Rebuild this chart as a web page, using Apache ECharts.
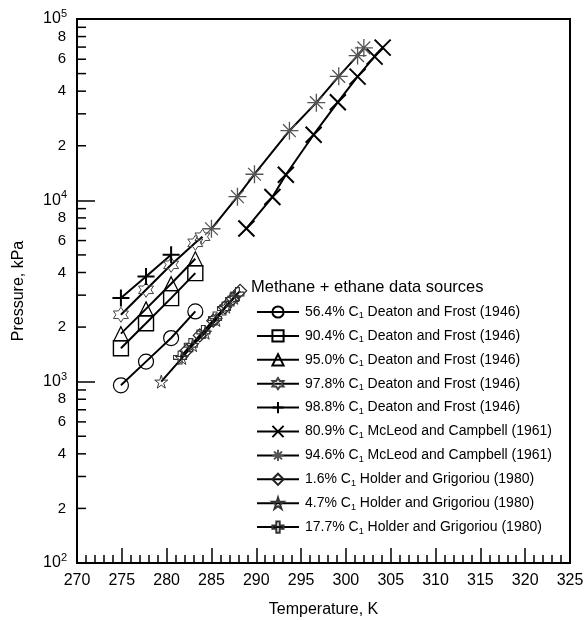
<!DOCTYPE html>
<html>
<head>
<meta charset="utf-8">
<script src="https://cdn.jsdelivr.net/npm/echarts@6/dist/echarts.min.js"></script>
<style>
  html, body { margin: 0; padding: 0; background: #fff; }
  #chart { width: 587px; height: 620px; }
</style>
</head>
<body>
<div id="chart"></div>
<script>
const seriesNames = [
  '56.4% C1 Deaton and Frost (1946)',
  '90.4% C1 Deaton and Frost (1946)',
  '95.0% C1 Deaton and Frost (1946)',
  '97.8% C1 Deaton and Frost (1946)',
  '98.8% C1 Deaton and Frost (1946)',
  '80.9% C1 McLeod and Campbell (1961)',
  '94.6% C1 McLeod and Campbell (1961)',
  '1.6% C1 Holder and Grigoriou (1980)',
  '4.7% C1 Holder and Grigoriou (1980)',
  '17.7% C1 Holder and Grigoriou (1980)'
];

// temperature (K) and pressure (kPa) for each source
const t564 = [274.9, 277.7, 280.5, 283.2];
const p564 = [955, 1290, 1740, 2440];
const t904 = [274.9, 277.7, 280.5, 283.2];
const p904 = [1530, 2100, 2890, 3970];
const t950 = [274.9, 277.7, 280.5, 283.2];
const p950 = [1840, 2520, 3470, 4760];
const t978 = [274.9, 277.7, 280.5, 283.2, 284.0];
const p978 = [2340, 3210, 4410, 5830, 6300];
const t988 = [274.9, 277.7, 280.5];
const p988 = [2890, 3800, 5010];
const t809 = [288.9, 291.8, 293.3, 296.4, 299.1, 301.3, 303.2, 304.1];
const p809 = [7000, 10430, 13840, 23010, 34770, 48090, 62050, 69550];
const t946 = [285.0, 287.9, 289.8, 293.7, 296.7, 299.2, 301.3, 302.0];
const p946 = [6970, 10470, 13930, 24210, 34570, 48300, 62830, 69240];
const t016 = [282.2, 283.7, 285.2, 286.5, 287.4, 288.2];
const p016 = [1480, 1800, 2170, 2570, 2870, 3170];
const t047 = [279.4, 281.7, 282.9, 284.3, 285.5, 286.6, 287.5];
const p047 = [1000, 1350, 1590, 1860, 2190, 2590, 2900];
const t177 = [281.5, 282.7, 284.1, 285.4, 286.4, 287.3, 287.9];
const p177 = [1360, 1590, 1880, 2230, 2530, 2840, 3040];

const xTicks = [270, 325, 5];
const yMinorLabels = [2, 4, 6, 8];

const temps = [t564, t904, t950, t978, t988, t809, t946, t016, t047, t177];
const press = [p564, p904, p950, p978, p988, p809, p946, p016, p047, p177];

const STAR6 = 'path://M0,-100L29,-50L87,-50L58,0L87,50L29,50L0,100L-29,50L-87,50L-58,0L-87,-50L-29,-50Z';
const STAR5 = 'path://M0,-100L22,-31L95,-31L36,12L59,81L0,38L-59,81L-36,12L-95,-31L-22,-31Z';
const PLUSBOX = 'path://M-30,-100L30,-100L30,-30L100,-30L100,30L30,30L30,100L-30,100L-30,30L-100,30L-100,-30L-30,-30Z';
const PLUS = 'path://M0,-100L0,100M-100,0L100,0';
const CROSS = 'path://M-100,-100L100,100M-100,100L100,-100';
const ASTER = 'path://M0,-100L0,100M-100,0L100,0M-71,-71L71,71M-71,71L71,-71';

const marks = [
  { symbol: 'circle', size: 15, bw: 1.2, c: '#000' },
  { symbol: 'rect', size: 15, bw: 1.4, c: '#000' },
  { symbol: 'triangle', size: 14, bw: 1.2, c: '#000' },
  { symbol: STAR6, size: 15, bw: 1, c: '#444' },
  { symbol: PLUS, size: 17, bw: 2, c: '#000' },
  { symbol: CROSS, size: 16, bw: 2, c: '#000' },
  { symbol: ASTER, size: 18, bw: 1.3, c: '#555' },
  { symbol: 'diamond', size: 13, bw: 1.2, c: '#222' },
  { symbol: STAR5, size: 13, bw: 1, c: '#333' },
  { symbol: PLUSBOX, size: 13, bw: 1.1, c: '#333' }
];

const chart = echarts.init(document.getElementById('chart'));
const font = 'Liberation Sans, Arial, sans-serif';

const series = seriesNames.map((name, i) => ({
  name: name,
  type: 'line',
  data: temps[i].map((t, j) => [t, press[i][j]]),
  symbol: marks[i].symbol,
  symbolSize: marks[i].size,
  showAllSymbol: true,
  lineStyle: { color: '#000', width: 2 },
  itemStyle: { color: 'rgba(0,0,0,0)', borderColor: marks[i].c, borderWidth: marks[i].bw },
  emphasis: { disabled: true },
  animation: false,
  z: 3
}));

const option = {
  animation: false,
  grid: {
    left: 77, right: 17, top: 19, bottom: 57,
    outerBoundsMode: 'none',
    containLabel: false,
    show: true, borderColor: '#000', borderWidth: 2, backgroundColor: 'transparent'
  },
  xAxis: {
    type: 'value',
    min: xTicks[0], max: xTicks[1], interval: xTicks[2],
    name: 'Temperature, K',
    nameLocation: 'middle',
    nameGap: 39,
    nameTextStyle: { fontFamily: font, fontSize: 16, color: '#000' },
    axisLine: { lineStyle: { color: '#000', width: 2 } },
    axisTick: { inside: true, length: 15, lineStyle: { color: '#000', width: 1.5 } },
    minorTick: { show: true, splitNumber: 5, length: 8, lineStyle: { color: '#000', width: 1.5 } },
    axisLabel: { fontFamily: font, fontSize: 16, color: '#000', margin: 10 },
    splitLine: { show: false }
  },
  yAxis: {
    type: 'log',
    logBase: 10,
    min: 100, max: 100000,
    name: 'Pressure, kPa',
    nameLocation: 'middle',
    nameGap: 50,
    nameTextStyle: { fontFamily: font, fontSize: 16, color: '#000' },
    axisLine: { lineStyle: { color: '#000', width: 2 } },
    axisTick: { inside: true, length: 18, lineStyle: { color: '#000', width: 1.5 } },
    axisLabel: {
      fontFamily: font, fontSize: 16, color: '#000', margin: 10,
      formatter: v => '10{sup|' + Math.round(Math.log10(v)) + '}',
      rich: { sup: { fontFamily: font, fontSize: 11, color: '#000', verticalAlign: 'top', padding: [0, 0, 10, 0] } }
    },
    splitLine: { show: false }
  },
  legend: {
    orient: 'vertical',
    left: 251, top: 300,
    itemWidth: 42, itemHeight: 14, itemGap: 8.4,
    selectedMode: false,
    data: seriesNames,
    formatter: name => name.replace(' C1 ', ' C{sub|1} '),
    textStyle: {
      fontFamily: font, fontSize: 14, color: '#000', padding: [0, 0, 0, 1],
      rich: { sub: { fontFamily: font, fontSize: 9, color: '#000', verticalAlign: 'bottom', padding: [8, 0, 0, 0] } }
    }
  },
  series: series
};

chart.setOption(option);

// log-axis minor ticks 2..9 per decade and labels 2,4,6,8
const x0 = chart.convertToPixel({ xAxisIndex: 0 }, xTicks[0]);
const elements = [];
[100, 1000, 10000].forEach(dec => {
  for (let k = 2; k <= 9; k++) {
    const y = chart.convertToPixel({ yAxisIndex: 0 }, dec * k);
    elements.push({
      type: 'line', silent: true,
      shape: { x1: x0, y1: y, x2: x0 + 9, y2: y },
      style: { stroke: '#000', lineWidth: 1.5 }
    });
    if (yMinorLabels.indexOf(k) >= 0) {
      elements.push({
        type: 'text', silent: true, x: x0 - 11, y: y,
        style: { text: String(k), fontFamily: font, fontSize: 15, fill: '#000', align: 'right', verticalAlign: 'middle' }
      });
    }
  }
});
elements.push({
  type: 'text', silent: true, left: 251, top: 279,
  style: { text: 'Methane + ethane data sources', fontFamily: font, fontSize: 16.5, fill: '#000' }
});
chart.setOption({ graphic: elements });
</script>
</body>
</html>
